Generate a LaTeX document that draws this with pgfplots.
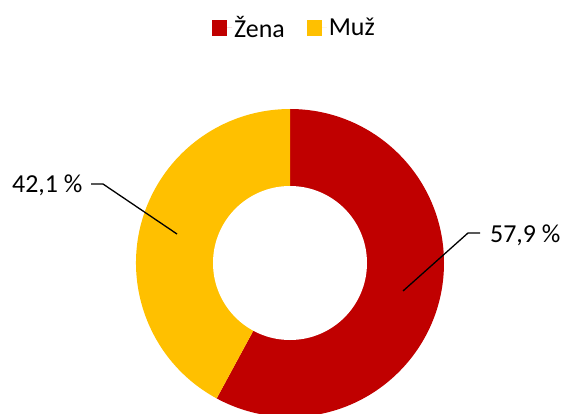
\documentclass[border=0pt]{standalone}
\usepackage{fontspec}
\setmainfont{Carlito}
\usepackage{pgfplots}
\usepackage{pgfplotstable}
\pgfplotsset{compat=1.18}
\definecolor{zena}{HTML}{C00000}
\definecolor{muz}{HTML}{FFC000}
\pgfplotstableread{
idx share
0 57.9
1 42.1
}\datatable
\begin{document}
\begin{tikzpicture}
\useasboundingbox (0,0) rectangle (561bp,414bp);
\pgfplotstablegetelem{0}{share}\of\datatable \let\shareA\pgfplotsretval
\pgfplotstablegetelem{1}{share}\of\datatable \let\shareB\pgfplotsretval
\pgfmathsetmacro\angA{90-3.6*\shareA}
\pgfmathsetmacro\angB{\angA-3.6*\shareB}
\begin{axis}[
  x=1bp, y=1bp, xmin=0, xmax=561, ymin=0, ymax=414,
  anchor=origin, at={(0,0)}, hide axis, clip=false,
  legend image code/.code={\path (0bp,0bp) -- (20bp,0bp);\fill[#1] (0bp,-7.5bp) rectangle (15bp,7.5bp);},
  legend style={at={(axis cs:294.5,386)}, anchor=center, draw=none, fill=none,
    legend columns=-1, font=\fontsize{26}{31}\selectfont, inner sep=0pt,
    /tikz/every even column/.append style={column sep=20bp}},
]
\addlegendimage{fill=zena, draw=none}
\addlegendentry{Žena}
\addlegendimage{fill=muz, draw=none}
\addlegendentry{Muž}
\fill[zena] (axis cs:290,151) -- ++(90:154) arc[start angle=90, end angle=\angA, radius=154bp] -- cycle;
\fill[muz] (axis cs:290,151) -- ++(\angA:154) arc[start angle=\angA, end angle=\angB, radius=154bp] -- cycle;
\fill[white] (axis cs:290,151) circle[radius=77bp];
\draw[line width=1.3bp] (axis cs:91,230) -- (axis cs:103,230) -- (axis cs:177,180);
\draw[line width=1.3bp] (axis cs:403,123) -- (axis cs:468,181) -- (axis cs:480,181);
\node[anchor=base west, inner sep=0pt, font=\fontsize{26}{31}\selectfont] at (axis cs:12,221) {42,1 \%};
\node[anchor=base west, inner sep=0pt, font=\fontsize{26}{31}\selectfont] at (axis cs:490,171) {57,9 \%};
\end{axis}
\end{tikzpicture}
\end{document}
